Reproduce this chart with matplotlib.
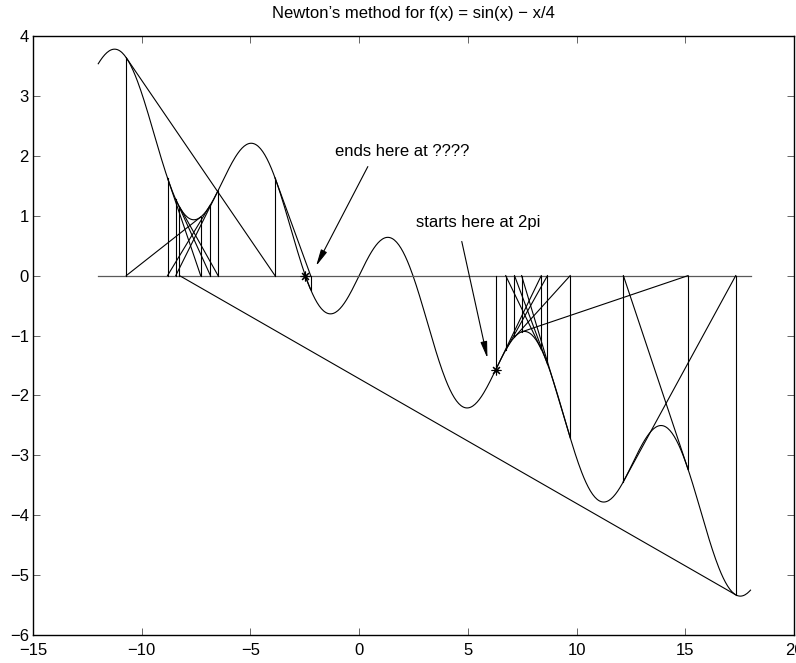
import numpy as np
import matplotlib
matplotlib.use("Agg")
import matplotlib.pyplot as plt

# ---- data ----
title_text = "Newton\u2019s method for f(x) = sin(x) \u2212 x/4"
x_start = 2 * np.pi          # starting point of the iteration
x_min, x_max = -12.0, 18.0   # plotted range of f and of the zero line
n_curve = 600
max_iter = 60
tol = 1e-12
xticks = [-15, -10, -5, 0, 5, 10, 15, 20]
yticks = [-6, -5, -4, -3, -2, -1, 0, 1, 2, 3, 4]
ann_end_text = "ends here at ????"
ann_start_text = "starts here at 2pi"


def f(x):
    return np.sin(x) - x / 4.0


def fp(x):
    return np.cos(x) - 0.25


# Newton iterates
iterates = [x_start]
for _ in range(max_iter):
    xk = iterates[-1]
    xn = xk - f(xk) / fp(xk)
    iterates.append(xn)
    if abs(xn - xk) < tol:
        break
iterates = np.array(iterates)

FS = 12
plt.rcParams['font.family'] = ['Liberation Sans', 'DejaVu Sans']
fig = plt.figure(figsize=(7.96, 6.63), dpi=100)
ax = fig.add_axes([33 / 796, 28 / 663, 761 / 796, 599 / 663])

xc = np.linspace(x_min, x_max, n_curve)
ax.plot(xc, f(xc), color='black', lw=0.8)
ax.plot([x_min, x_max], [0, 0], color='0.35', lw=0.9)

lc = 'black'
for k in range(len(iterates) - 1):
    xk = iterates[k]
    ax.plot([xk, xk], [0, f(xk)], color=lc, lw=0.8)
    ax.plot([xk, iterates[k + 1]], [f(xk), 0], color=lc, lw=0.8)

mk = dict(marker=(8, 2, 0), color='black', ms=7, mew=0.8, ls='none')
ax.plot([iterates[0]], [f(iterates[0])], **mk)
ax.plot([iterates[-1]], [f(iterates[-1])], **mk)

ap = dict(arrowstyle='-|>,head_length=1.0,head_width=0.2', color='black', lw=0.8,
          shrinkA=0, shrinkB=0)
ax.annotate('', xy=(-1.98, 0.16), xytext=(0.40, 1.82), arrowprops=ap)
ax.annotate('', xy=(5.90, -1.38), xytext=(4.72, 0.57), arrowprops=ap)
ax.text(-1.11, 2.08, ann_end_text, fontsize=FS, va='center', ha='left')
ax.text(2.62, 0.88, ann_start_text, fontsize=FS, va='center', ha='left')

ax.set_xlim(-15, 20)
ax.set_ylim(-6, 4)
ax.set_xticks(xticks)
ax.set_yticks(yticks)
ax.set_xticklabels([str(t).replace('-', '\u2212') for t in xticks])
ax.set_yticklabels([str(t).replace('-', '\u2212') for t in yticks])
ax.tick_params(direction='in', length=5, width=0.6, top=True, right=True,
               labelsize=FS, color='0.3')
ax.tick_params(axis='x', pad=5.5)
ax.tick_params(axis='y', pad=3)
for s in ax.spines.values():
    s.set_linewidth(1.0)
ax.set_title(title_text, fontsize=FS, pad=13)

fig.savefig('out.png', dpi=100)
